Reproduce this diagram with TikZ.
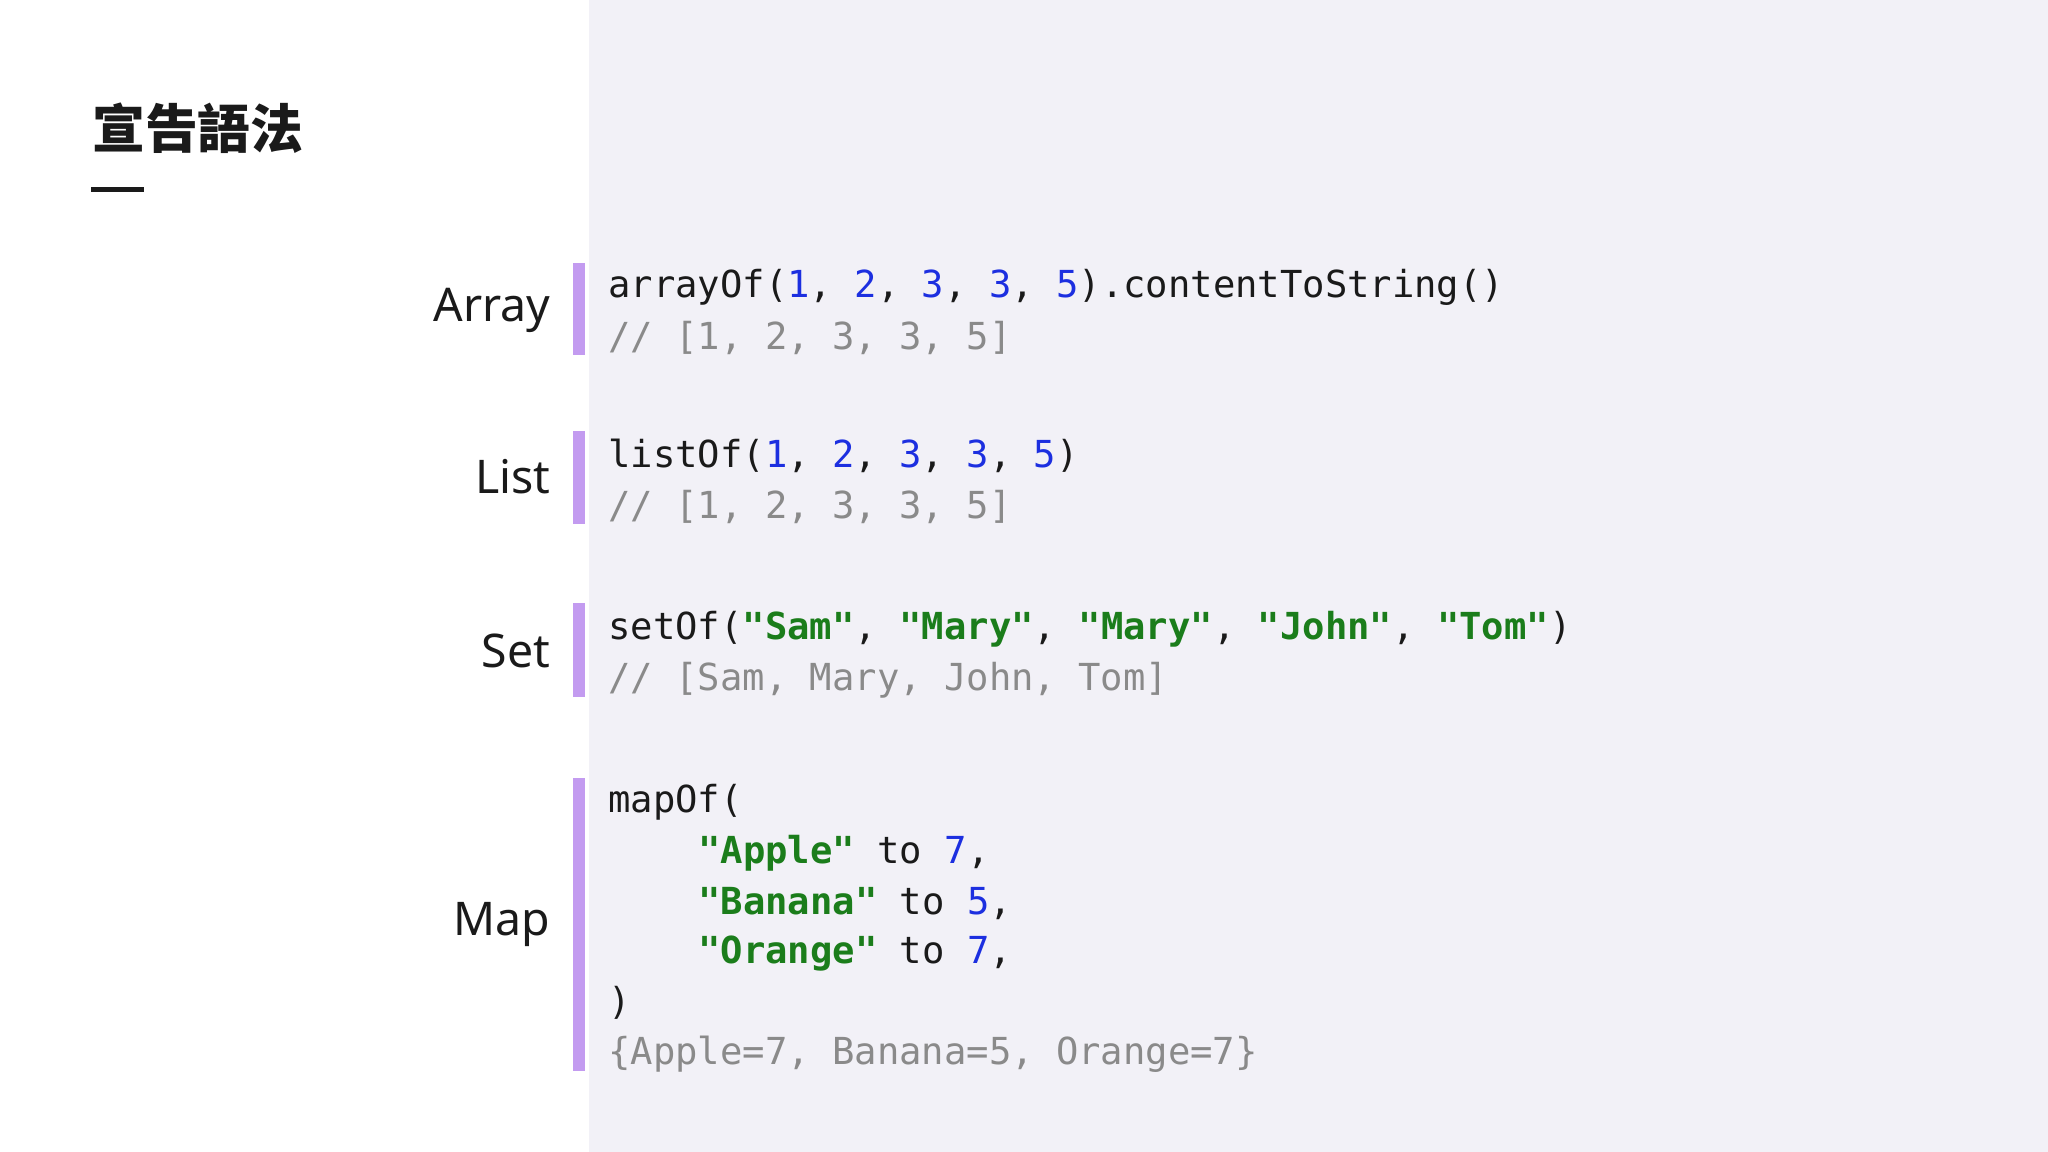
\documentclass[tikz,border=0pt]{standalone}
\usepackage{fontspec}
\setmainfont{Noto Sans}
\setmonofont{DejaVu Sans Mono}
\newfontfamily\cjk{Noto Sans CJK TC}
\definecolor{bgr}{HTML}{F2F1F7}
\definecolor{barc}{HTML}{C39BF0}
\definecolor{kblue}{HTML}{1C2FE0}
\definecolor{kgreen}{HTML}{1B7D1B}
\definecolor{kgray}{HTML}{8A8A8A}
\definecolor{ktext}{HTML}{1A1A1A}
\newcommand{\bl}[1]{\textcolor{kblue}{#1}}
\newcommand{\gr}[1]{\textcolor{kgreen}{\bfseries #1}}
\begin{document}
\begin{tikzpicture}[x=0.01cm,y=-0.01cm,
  lab/.style={anchor=east,font=\fontsize{10.1pt}{12pt}\selectfont,text=ktext,inner sep=0},
  code/.style={anchor=west,font=\ttfamily\fontsize{8.1pt}{9pt}\selectfont,text=ktext,inner sep=0},
  cmt/.style={code,text=kgray},
  vbar/.style={fill=barc,draw=none}]
\useasboundingbox (0,0) rectangle (1568,882);
\fill[white] (0,0) rectangle (451,882);
\fill[bgr] (451,0) rectangle (1568,882);
\node[anchor=west,inner sep=0,font=\cjk\bfseries\fontsize{11.5pt}{13pt}\selectfont,text=ktext] (title) at (70,98) {宣告語法};
\fill[ktext] (70,143) rectangle (110,147);
% bars
\fill[vbar] (439,201) rectangle (448,272);
\fill[vbar] (439,330) rectangle (448,401);
\fill[vbar] (439,462) rectangle (448,534);
\fill[vbar] (439,596) rectangle (448,820);
% labels
\node[lab] (la) at (422,238) {Array};
\node[lab] (ll) at (422,365) {List};
\node[lab] (ls) at (422,498) {Set};
\node[lab] (lm) at (422,708) {Map};
% code
\node[code] (a1) at (465,220) {arrayOf(\bl{1}, \bl{2}, \bl{3}, \bl{3}, \bl{5}).contentToString()};
\node[cmt] (a2) at (465,259) {// [1, 2, 3, 3, 5]};
\node[code] (l1) at (465,349) {listOf(\bl{1}, \bl{2}, \bl{3}, \bl{3}, \bl{5})};
\node[cmt] (l2) at (465,388) {// [1, 2, 3, 3, 5]};
\node[code] (s1) at (465,482) {setOf(\gr{"Sam"}, \gr{"Mary"}, \gr{"Mary"}, \gr{"John"}, \gr{"Tom"})};
\node[cmt] (s2) at (465,521) {// [Sam, Mary, John, Tom]};
\node[code] (m1) at (465,614) {mapOf(};
\node[code] (m2) at (534,653) {\gr{"Apple"} to \bl{7},};
\node[code] (m3) at (534,692) {\gr{"Banana"} to \bl{5},};
\node[code] (m4) at (534,730) {\gr{"Orange"} to \bl{7},};
\node[code] (m5) at (465,768) {)};
\node[cmt] (m6) at (465,807) {\{Apple=7, Banana=5, Orange=7\}};
\end{tikzpicture}
\end{document}
